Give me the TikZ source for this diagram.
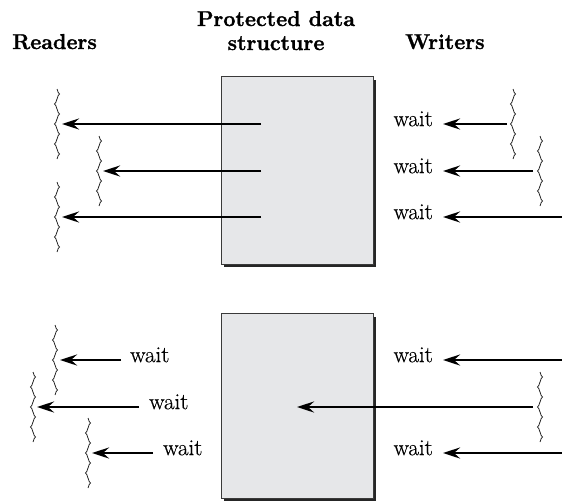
\documentclass[tikz,border=0pt]{standalone}
\usepackage{fontspec}
\newfontfamily\hdrfont{Latin Modern Roman}[UprightFeatures={FakeBold=0.6}, BoldFeatures={FakeBold=1.4}]
\newfontfamily\waitfont{Latin Modern Roman}[UprightFeatures={FakeBold=0.5}]
\usetikzlibrary{arrows.meta}
\definecolor{boxfill}{HTML}{E6E7E9}
\definecolor{boxline}{HTML}{3A3A3A}
\newcommand{\wavyline}[2]{\draw[wavy] (#1,#2-35) sin ++(2.5,5) cos ++(-2.5,5) sin ++(-2.5,5) cos ++(2.5,5)
  sin ++(2.5,5) cos ++(-2.5,5) sin ++(-2.5,5) cos ++(2.5,5)
  sin ++(2.5,5) cos ++(-2.5,5) sin ++(-2.5,5) cos ++(2.5,5)
  sin ++(2.5,5) cos ++(-2.5,5);}
\begin{document}
\begin{tikzpicture}[x=1pt,y=-1pt,
  hdr/.style={font=\fontsize{21.5}{24}\selectfont\hdrfont\bfseries, inner sep=0pt, align=center},
  waittxt/.style={font=\fontsize{23}{26}\selectfont\waitfont, inner sep=0pt},
  arr/.style={line width=2.7pt, -{Stealth[length=17pt,width=11pt,inset=6pt]}},
  wavy/.style={line width=0.8pt, black!85},
  pbox/.style={fill=boxfill, draw=boxline, line width=1pt},
  shadow/.style={fill=black!85, draw=none}]
\useasboundingbox (0,0) rectangle (562,501);
% headers
\node[hdr, anchor=base west] (readers) at (12,49) {Readers};
\node[hdr, anchor=base] (pds) at (276,50) {Protected data\\structure};
\node[hdr, anchor=base west] (writers) at (405,49) {Writers};
% boxes
\fill[shadow] (224,80) rectangle (376,267);
\node[pbox, minimum width=152pt, minimum height=188pt, inner sep=0pt, anchor=north west] (top) at (221,76) {};
\fill[shadow] (224,317) rectangle (376,501);
\node[pbox, minimum width=152pt, minimum height=185pt, inner sep=0pt, anchor=north west] (bot) at (221,313) {};
% ---- top panel ----
% readers
\coordinate (r1s) at (261,124); \coordinate (r1e) at (62,124);
\coordinate (r2s) at (261,171); \coordinate (r2e) at (103,171);
\coordinate (r3s) at (261,217); \coordinate (r3e) at (62,217);
\draw[arr] (r1s) -- (r1e);
\draw[arr] (r2s) -- (r2e);
\draw[arr] (r3s) -- (r3e);
\wavyline{57}{124}
\wavyline{99}{171}
\wavyline{57}{217}
% writers
\node[waittxt, anchor=mid east] (tw1) at (433,124) {wait};
\node[waittxt, anchor=mid east] (tw2) at (433,171) {wait};
\node[waittxt, anchor=mid east] (tw3) at (433,217) {wait};
\coordinate (w1s) at (507,124);
\coordinate (w2s) at (533,171);
\coordinate (w3s) at (562,217);
\draw[arr] (w1s) -- ([xshift=10pt]tw1.mid east);
\draw[arr] (w2s) -- ([xshift=10pt]tw2.mid east);
\draw[arr] (w3s) -- ([xshift=10pt]tw3.mid east);
\wavyline{513}{124}
\wavyline{540}{171}
% ---- bottom panel ----
% readers waiting
\node[waittxt, anchor=mid west] (bw1) at (130,360) {wait};
\node[waittxt, anchor=mid west] (bw2) at (149,407) {wait};
\node[waittxt, anchor=mid west] (bw3) at (163,453) {wait};
\coordinate (b1e) at (60,360);
\coordinate (b2e) at (37,407);
\coordinate (b3e) at (92,453);
\draw[arr] ([xshift=-9pt]bw1.mid west) -- (b1e);
\draw[arr] ([xshift=-10pt]bw2.mid west) -- (b2e);
\draw[arr] ([xshift=-10pt]bw3.mid west) -- (b3e);
\wavyline{55}{360}
\wavyline{33}{407}
\wavyline{88}{453}
% writers
\node[waittxt, anchor=mid east] (bx1) at (433,360) {wait};
\node[waittxt, anchor=mid east] (bx3) at (433,453) {wait};
\coordinate (x1s) at (562,360);
\coordinate (x2s) at (533,407); \coordinate (x2e) at (297,407);
\coordinate (x3s) at (562,453);
\draw[arr] (x1s) -- ([xshift=10pt]bx1.mid east);
\draw[arr] (x2s) -- (x2e);
\draw[arr] (x3s) -- ([xshift=10pt]bx3.mid east);
\wavyline{540}{407}
\end{tikzpicture}
\end{document}
